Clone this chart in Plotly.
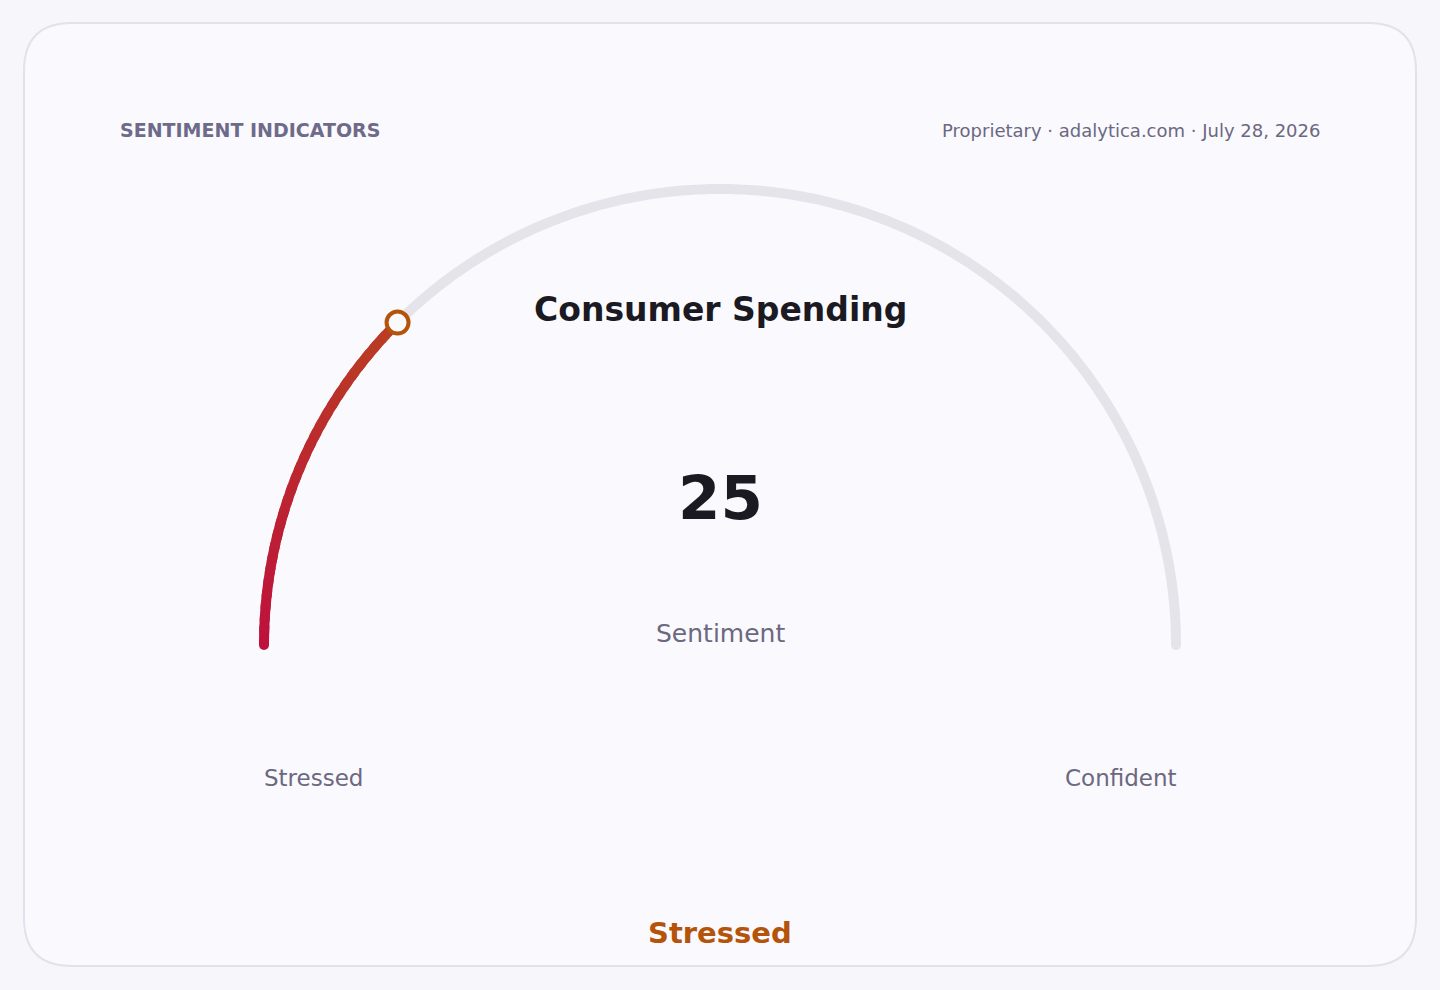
import math
import plotly.graph_objects as go

# gauge data
title = "Consumer Spending"
header = "SENTIMENT INDICATORS"
source = "Proprietary · adalytica.com · July 28, 2026"
value = 25
v_min = 0
v_max = 100
low_label = "Stressed"
high_label = "Confident"
metric_label = "Sentiment"
state_label = "Stressed"

# geometry of the dial (pixels on a 1440x990 canvas)
cx, cy, r = 720, 645, 456
W, H = 1440, 990


def pos(v):
    t = math.pi * (1 - (v - v_min) / (v_max - v_min))
    return cx + r * math.cos(t), cy - r * math.sin(t)


def mix(c1, c2, f):
    a = [int(c1[i:i + 2], 16) for i in (1, 3, 5)]
    b = [int(c2[i:i + 2], 16) for i in (1, 3, 5)]
    return "rgb(%d,%d,%d)" % tuple(round(a[k] + (b[k] - a[k]) * f) for k in range(3))


fig = go.Figure()

# grey track
steps = 300
tx, ty = [], []
for i in range(steps + 1):
    x, y = pos(v_min + (v_max - v_min) * i / steps)
    tx.append(x)
    ty.append(y)
fig.add_trace(go.Scatter(x=tx, y=ty, mode="lines",
                         line=dict(color="#e5e4ea", width=10, simplify=False)))
fig.add_trace(go.Scatter(x=[tx[0], tx[-1]], y=[ty[0], ty[-1]], mode="markers",
                         marker=dict(color="#e5e4ea", size=10)))

# filled arc with gradient (segments overlap a little to hide seams)
n = 30
start_col, end_col = "#be123c", "#b93d22"
for i in range(n):
    v0 = v_min + (value - v_min) * i / n
    v1 = min(value, v_min + (value - v_min) * (i + 1.6) / n)
    xs, ys = [], []
    for k in range(7):
        x, y = pos(v0 + (v1 - v0) * k / 6)
        xs.append(x)
        ys.append(y)
    fig.add_trace(go.Scatter(x=xs, y=ys, mode="lines",
                             line=dict(color=mix(start_col, end_col, i / (n - 1)),
                                       width=10, simplify=False)))
sx, sy = pos(v_min)
fig.add_trace(go.Scatter(x=[sx], y=[sy], mode="markers",
                         marker=dict(color=start_col, size=10)))

# value marker
mx, my = pos(value)
fig.add_trace(go.Scatter(x=[mx], y=[my], mode="markers",
                         marker=dict(size=22, color="#faf9fe",
                                     line=dict(color="#b45309", width=4))))

font = "DejaVu Sans, Verdana, sans-serif"
notes = [
    dict(x=120, y=130, text="<b>" + header + "</b>", xanchor="left", xshift=-2,
         font=dict(size=19, color="#6e6a8a")),
    dict(x=1320, y=130, text=source, xanchor="right", xshift=2,
         font=dict(size=18, color="#6b6880")),
    dict(x=cx, y=309, text="<b>" + title + "</b>", xanchor="center",
         font=dict(size=33, color="#1b1a22")),
    dict(x=cx, y=497, text="<b>" + str(value) + "</b>", xanchor="center",
         font=dict(size=61, color="#1b1a22")),
    dict(x=cx, y=633, text=metric_label, xanchor="center",
         font=dict(size=25, color="#6b6880")),
    dict(x=cx - r, y=778, text=low_label, xanchor="left", xshift=-2,
         font=dict(size=23, color="#6b6880")),
    dict(x=cx + r, y=778, text=high_label, xanchor="right", xshift=3,
         font=dict(size=23, color="#6b6880")),
    dict(x=cx, y=933, text="<b>" + state_label + "</b>", xanchor="center",
         font=dict(size=29, color="#b45309")),
]
for a in notes:
    fig.add_annotation(xref="x", yref="y", showarrow=False, yanchor="middle", **a)

# card outline
x0, y0, x1, y1, rr = 24, 23, 1416, 966, 48
card = (f"M{x0 + rr},{y0} L{x1 - rr},{y0} Q{x1},{y0} {x1},{y0 + rr} "
        f"L{x1},{y1 - rr} Q{x1},{y1} {x1 - rr},{y1} L{x0 + rr},{y1} "
        f"Q{x0},{y1} {x0},{y1 - rr} L{x0},{y0 + rr} Q{x0},{y0} {x0 + rr},{y0} Z")
fig.add_shape(type="path", path=card, xref="x", yref="y", layer="below",
              fillcolor="#faf9fe", line=dict(color="#e2e1ec", width=2))

fig.update_layout(
    width=W, height=H,
    margin=dict(l=0, r=0, t=0, b=0),
    paper_bgcolor="#f7f7fb",
    plot_bgcolor="rgba(0,0,0,0)",
    showlegend=False,
    hovermode=False,
    font=dict(family=font),
    xaxis=dict(range=[0, W], visible=False, fixedrange=True),
    yaxis=dict(range=[H, 0], visible=False, fixedrange=True),
)

# drop the default 8px body margin so the figure fills the window
fig.write_html("out.html", config={"displayModeBar": False},
               post_script="document.body.style.margin='0';"
                           "document.body.style.overflow='hidden';"
                           "document.body.style.background='#f7f7fb';")
